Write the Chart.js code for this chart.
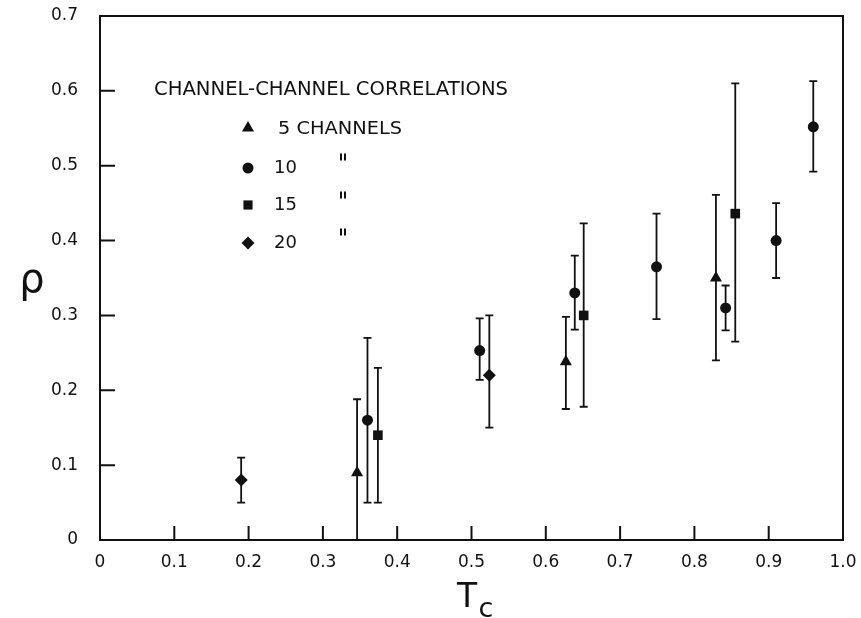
<!DOCTYPE html>
<html>
<head>
<meta charset="utf-8">
<script src="https://cdn.jsdelivr.net/npm/chart.js@4.4.1/dist/chart.umd.min.js"></script>
<style>
html,body{margin:0;padding:0;background:#fff;}
#wrap{width:861px;height:618px;}
</style>
</head>
<body>
<div id="wrap"><canvas id="c" width="861" height="618"></canvas></div>
<script>
// ---- data ----
const triX  = [0.346, 0.627, 0.829];
const triY  = [0.09, 0.238, 0.35];
const triLo = [0.0, 0.175, 0.24];
const triHi = [0.188, 0.298, 0.461];

const cirX  = [0.36, 0.511, 0.639, 0.749, 0.842, 0.91, 0.96];
const cirY  = [0.16, 0.253, 0.33, 0.365, 0.31, 0.40, 0.552];
const cirLo = [0.05, 0.214, 0.281, 0.295, 0.28, 0.35, 0.492];
const cirHi = [0.27, 0.296, 0.38, 0.436, 0.34, 0.45, 0.613];

const sqX  = [0.374, 0.651, 0.855];
const sqY  = [0.14, 0.30, 0.436];
const sqLo = [0.05, 0.178, 0.265];
const sqHi = [0.23, 0.423, 0.61];

const diaX  = [0.19, 0.524];
const diaY  = [0.08, 0.22];
const diaLo = [0.05, 0.15];
const diaHi = [0.11, 0.30];

const xTickVals   = [0,0.1,0.2,0.3,0.4,0.5,0.6,0.7,0.8,0.9,1.0];
const xTickLabels = ['0','0.1','0.2','0.3','0.4','0.5','0.6','0.7','0.8','0.9','1.0'];
const yTickVals   = [0,0.1,0.2,0.3,0.4,0.5,0.6,0.7];
const yTickLabels = ['0','0.1','0.2','0.3','0.4','0.5','0.6','0.7'];

const legendTitle = 'CHANNEL-CHANNEL CORRELATIONS';
const legendNames = ['5 CHANNELS', '10', '15', '20'];
const legendStyles = ['triangle', 'circle', 'rect', 'rectRot'];

function pts(xs, ys, lo, hi){ return xs.map((x,i)=>({x:x, y:ys[i], lo:lo[i], hi:hi[i]})); }

const INK = '#111';
const FONT = '"DejaVu Sans", sans-serif';

function drawMarker(ctx, style, x, y, r){
  ctx.beginPath();
  if (style === 'circle'){ ctx.arc(x, y, r, 0, Math.PI*2); }
  else if (style === 'triangle'){
    ctx.moveTo(x, y - r); ctx.lineTo(x + r*0.866, y + r*0.5); ctx.lineTo(x - r*0.866, y + r*0.5); ctx.closePath();
  } else if (style === 'rect'){ const s = r*0.7071; ctx.rect(x - s, y - s, 2*s, 2*s); }
  else { ctx.moveTo(x, y - r); ctx.lineTo(x + r, y); ctx.lineTo(x, y + r); ctx.lineTo(x - r, y); ctx.closePath(); }
  ctx.fill();
}

function fitText(ctx, text, x, y, targetW){
  const w = ctx.measureText(text).width;
  ctx.save();
  ctx.translate(x, y);
  ctx.scale(targetW / w, 1);
  ctx.fillText(text, 0, 0);
  ctx.restore();
}

const errorBars = {
  id: 'errorBars',
  beforeDatasetsDraw(chart){
    const ctx = chart.ctx, xs = chart.scales.x, ys = chart.scales.y;
    ctx.save();
    ctx.strokeStyle = INK; ctx.lineWidth = 1.8;
    chart.data.datasets.forEach(ds => {
      ds.data.forEach(p => {
        const px = xs.getPixelForValue(p.x);
        const pl = ys.getPixelForValue(p.lo), ph = ys.getPixelForValue(p.hi);
        ctx.beginPath();
        ctx.moveTo(px, pl); ctx.lineTo(px, ph);
        ctx.moveTo(px - 4, ph); ctx.lineTo(px + 4, ph);
        if (p.lo > 0){ ctx.moveTo(px - 4, pl); ctx.lineTo(px + 4, pl); }
        ctx.stroke();
      });
    });
    ctx.restore();
  }
};

const frame = {
  id: 'frame',
  afterDraw(chart){
    const ctx = chart.ctx, a = chart.chartArea, xs = chart.scales.x, ys = chart.scales.y;
    ctx.save();
    ctx.strokeStyle = INK; ctx.lineWidth = 2;
    ctx.strokeRect(a.left, a.top, a.right - a.left, a.bottom - a.top);
    ctx.beginPath();
    xTickVals.forEach(v => { if (v > 0 && v < 1){ const px = xs.getPixelForValue(v); ctx.moveTo(px, a.bottom); ctx.lineTo(px, a.bottom - 14);} });
    yTickVals.forEach(v => { if (v > 0 && v < 0.7){ const py = ys.getPixelForValue(v); ctx.moveTo(a.left, py); ctx.lineTo(a.left + 15, py);} });
    ctx.stroke();

    // axis titles
    ctx.fillStyle = INK;
    ctx.textAlign = 'center'; ctx.textBaseline = 'middle';
    ctx.font = '40px ' + FONT;
    ctx.fillText('ρ', 32, (a.top + a.bottom)/2 + 4);
    ctx.textBaseline = 'alphabetic';
    ctx.font = '33px ' + FONT;
    ctx.fillText('T', 467, 607);
    ctx.font = '27px ' + FONT;
    ctx.fillText('c', 486, 617);

    // legend
    ctx.textAlign = 'left'; ctx.textBaseline = 'middle';
    ctx.font = '20px ' + FONT;
    fitText(ctx, legendTitle, 154, 90, 354);
    const rows = [129, 168, 205, 243];
    const rr = [7, 5.5, 6.5, 6.5];
    ctx.font = '18px ' + FONT;
    legendStyles.forEach((s, i) => {
      drawMarker(ctx, s, 248, rows[i] - (s === 'triangle' ? 1 : 0), rr[i]);
      if (i === 0) fitText(ctx, legendNames[i], 278, rows[i], 124);
      else ctx.fillText(legendNames[i], 274, rows[i]);
    });
    // ditto marks
    ctx.lineWidth = 2;
    ctx.beginPath();
    [157, 195, 232].forEach(y => {
      ctx.moveTo(341, y - 3.5); ctx.lineTo(341, y + 3.5);
      ctx.moveTo(345, y - 3.5); ctx.lineTo(345, y + 3.5);
    });
    ctx.stroke();
    ctx.restore();
  }
};

const tickFont = { family: FONT, size: 17 };

new Chart(document.getElementById('c'), {
  type: 'scatter',
  data: {
    datasets: [
      { label: legendNames[0], data: pts(triX, triY, triLo, triHi), pointStyle: 'triangle', pointRadius: 7, backgroundColor: INK, borderColor: INK, borderWidth: 0 },
      { label: legendNames[1], data: pts(cirX, cirY, cirLo, cirHi), pointStyle: 'circle', pointRadius: 5.5, backgroundColor: INK, borderColor: INK, borderWidth: 0 },
      { label: legendNames[2], data: pts(sqX, sqY, sqLo, sqHi), pointStyle: 'rect', pointRadius: 6.8, backgroundColor: INK, borderColor: INK, borderWidth: 0 },
      { label: legendNames[3], data: pts(diaX, diaY, diaLo, diaHi), pointStyle: 'rectRot', pointRadius: 6.5, backgroundColor: INK, borderColor: INK, borderWidth: 0 }
    ]
  },
  options: {
    responsive: false,
    animation: false,
    devicePixelRatio: 1,
    layout: { padding: { top: 16, right: 18, left: 0, bottom: 0 } },
    plugins: { legend: { display: false }, tooltip: { enabled: false } },
    scales: {
      x: {
        type: 'linear', min: 0, max: 1,
        afterBuildTicks: s => { s.ticks = xTickVals.map(v => ({ value: v })); },
        afterFit: s => { s.height = 78; s.paddingLeft = 0; s.paddingRight = 0; },
        ticks: { callback: (v, i) => xTickLabels[i], font: tickFont, color: INK, padding: 12, maxRotation: 0, autoSkip: false },
        grid: { display: false, drawTicks: false },
        border: { display: false }
      },
      y: {
        type: 'linear', min: 0, max: 0.7,
        afterBuildTicks: s => { s.ticks = yTickVals.map(v => ({ value: v })); },
        afterFit: s => { s.width = 100; s.paddingTop = 0; s.paddingBottom = 0; },
        ticks: { callback: (v, i) => yTickLabels[i], font: tickFont, color: INK, padding: 22, autoSkip: false },
        grid: { display: false, drawTicks: false },
        border: { display: false }
      }
    }
  },
  plugins: [errorBars, frame]
});
</script>
</body>
</html>
